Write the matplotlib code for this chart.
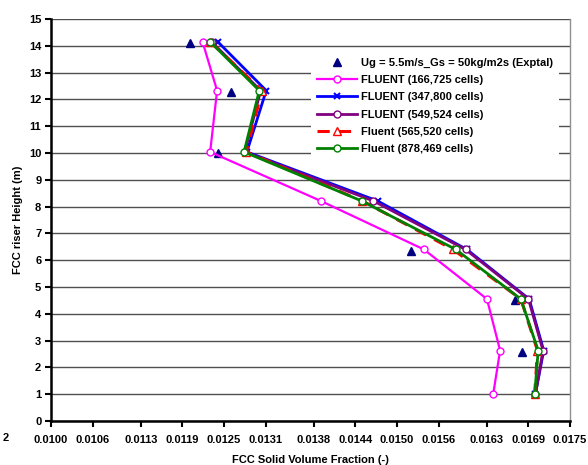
import matplotlib
matplotlib.use("Agg")
import matplotlib.pyplot as plt
from matplotlib.ticker import FixedLocator

plt.rcParams['font.family'] = ['Liberation Sans', 'DejaVu Sans']
plt.rcParams['font.weight'] = 'bold'

# Riser heights of the simulation monitoring planes (m)
sim_height = [14.15, 12.33, 10.04, 8.21, 6.40, 4.55, 2.63, 1.00]

# Experimental data
exp_height = [14.09, 12.26, 9.99, 6.34, 4.51, 2.59]
exp_frac = [0.01201, 0.01260, 0.01241, 0.01520, 0.01670, 0.01680]

# Simulated solid volume fraction for each mesh
frac_166k = [0.01219, 0.01240, 0.01230, 0.01390, 0.01539, 0.01630, 0.01649, 0.01639]
frac_347k = [0.01241, 0.01311, 0.01283, 0.01472, 0.01601, 0.01691, 0.01712, 0.01700]
frac_549k = [0.01232, 0.01303, 0.01280, 0.01466, 0.01599, 0.01690, 0.01711, 0.01700]
frac_565k = [0.01230, 0.01305, 0.01282, 0.01450, 0.01581, 0.01679, 0.01703, 0.01699]
frac_878k = [0.01230, 0.01301, 0.01279, 0.01449, 0.01585, 0.01679, 0.01704, 0.01699]

labels = ["Ug = 5.5m/s_Gs = 50kg/m2s (Exptal)",
          "FLUENT (166,725 cells)",
          "FLUENT (347,800 cells)",
          "FLUENT (549,524 cells)",
          "Fluent (565,520 cells)",
          "Fluent (878,469 cells)"]

x_ticks = [0.0100, 0.0106, 0.0113, 0.0119, 0.0125, 0.0131, 0.0138,
           0.0144, 0.0150, 0.0156, 0.0163, 0.0169, 0.0175]

fig = plt.figure(figsize=(5.88, 4.65), dpi=100)
ax = fig.add_axes([51/588, 1-421/465, 519/588, 402/465])

ax.plot(exp_frac, exp_height, linestyle='none', marker='^', markersize=6,
        color='#000080', label=labels[0], zorder=3)
ax.plot(frac_166k, sim_height, color='#FF00FF', lw=1.6, marker='o', markersize=5,
        markerfacecolor='white', markeredgecolor='#FF00FF', markeredgewidth=1.0,
        label=labels[1], zorder=3)
ax.plot(frac_347k, sim_height, color='#0000FF', lw=2.0, marker='x', markersize=4,
        markeredgewidth=1.5, label=labels[2], zorder=3)
ax.plot(frac_549k, sim_height, color='#800080', lw=2.0, marker='o', markersize=5,
        markerfacecolor='white', markeredgecolor='#800080', markeredgewidth=1.0,
        label=labels[3], zorder=3)
ax.plot(frac_565k, sim_height, color='#FF0000', lw=2.2, linestyle=(0, (4, 3)),
        marker='^', markersize=6, markerfacecolor='white', markeredgecolor='#FF0000',
        markeredgewidth=1.0, label=labels[4], zorder=3)
ax.plot(frac_878k, sim_height, color='#008000', lw=2.0, marker='o', markersize=5,
        markerfacecolor='white', markeredgecolor='#008000', markeredgewidth=1.0,
        label=labels[5], zorder=3)

ax.set_xlim(0.0100, 0.0175)
ax.set_ylim(0, 15)
ax.xaxis.set_major_locator(FixedLocator(x_ticks))
ax.set_xticklabels([f"{v:.4f}" for v in x_ticks])
ax.set_yticks(range(0, 16))

ax.grid(axis='y', color='#505050', lw=1.0, zorder=0)
ax.set_axisbelow(True)

for s in ['left', 'bottom']:
    ax.spines[s].set_linewidth(1.8)
    ax.spines[s].set_color('black')
ax.spines['top'].set_visible(False)
ax.spines['right'].set_color('#909090')
ax.spines['right'].set_linewidth(1.0)

ax.tick_params(axis='both', labelsize=8, width=1.5, length=4, direction='out')
ax.tick_params(axis='x', pad=6)
ax.tick_params(axis='y', pad=3)
for t in ax.get_xticklabels() + ax.get_yticklabels():
    t.set_fontweight('bold')

ax.set_xlabel("FCC Solid Volume Fraction (-)", fontsize=8, fontweight='bold', labelpad=7)
ax.set_ylabel("FCC riser Height (m)", fontsize=8, fontweight='bold', labelpad=4)

leg = ax.legend(loc='upper left', bbox_to_anchor=((311-51)/519, (421-52)/402),
                borderaxespad=0, frameon=True, fancybox=False, edgecolor='none',
                facecolor='white', framealpha=1, fontsize=8, numpoints=1,
                handlelength=3.6, handletextpad=0.4, labelspacing=0.66, borderpad=0.5)
for t in leg.get_texts():
    t.set_fontweight('bold')

fig.text(3/588, 1-438/465, "2", fontsize=8, fontweight='bold', va='center', ha='left')

fig.savefig("out.png", dpi=100)
